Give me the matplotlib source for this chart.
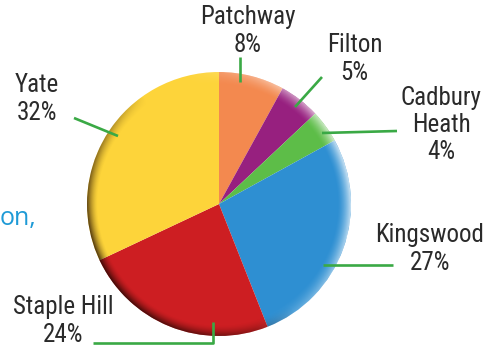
import numpy as np
import matplotlib.pyplot as plt
from matplotlib.patches import Circle

# share of sites by area
areas = ['Patchway', 'Filton', 'Cadbury\nHeath', 'Kingswood', 'Staple Hill', 'Yate']
shares = [8, 5, 4, 27, 24, 32]
colours = ['#F3894F', '#97207F', '#5DBD48', '#2E8FD2', '#CD1E22', '#FDD43A']

W, H = 486, 347
green = '#3AA945'
ink = '#2A2A2A'
fam = ['Roboto Condensed', 'DejaVu Sans']

# layout in pixels from top-left
cx, cy, r = 219, 204, 132
label_pos = [(248, 31, 'center'), (327, 59, 'left'), (441, 125, 'center'),
             (430, 249, 'center'), (63, 321, 'center'), (15, 99, 'left')]
leaders = [[(240, 57), (240, 82)],
           [(322, 77), (295, 107)],
           [(397, 131), (322, 133)],
           [(393, 265), (323, 265)],
           [(93, 343), (213, 343), (213, 322)],
           [(74, 118), (118, 136)]]

fig = plt.figure(figsize=(W / 100, H / 100), dpi=100)
ax = fig.add_axes([0, 0, 1, 1])

def Y(y):
    return H - y

ax.pie(shares, colors=colours, startangle=90, counterclock=False,
       center=(cx, Y(cy)), radius=r, wedgeprops=dict(linewidth=0))

# fake 3d rim: dark lower-left, light upper-right
n = 2 * r
xs = np.linspace(-1, 1, n)
gx, gy = np.meshgrid(xs, xs)
rho = np.sqrt(gx ** 2 + gy ** 2)
phi = np.degrees(np.arctan2(gy, gx))

def rim(centre, depth, strength, rgb, power=1.0):
    w = np.clip(np.cos(np.radians(phi - centre)), 0, None) ** power
    edge = np.clip((rho - (1 - depth)) / depth, 0, 1) ** 1.6
    img = np.zeros((n, n, 4))
    img[..., :3] = rgb
    img[..., 3] = strength * w * edge
    im = ax.imshow(img, extent=(cx - r, cx + r, Y(cy) - r, Y(cy) + r),
                   origin='lower', interpolation='bilinear', zorder=3)
    im.set_clip_path(Circle((cx, Y(cy)), r, transform=ax.transData))

rim(215, 0.08, 0.75, (0.1, 0.02, 0.0), 0.8)
rim(15, 0.10, 0.7, (1, 1, 1), 1.2)

for (x, y, ha), area, share in zip(label_pos, areas, shares):
    ax.text(x, Y(y), f'{area}\n{share}%', ha=ha, va='center', ma='center',
            fontsize=18, color=ink, family=fam, linespacing=1.17)

for pts in leaders:
    ax.plot([p[0] for p in pts], [Y(p[1]) for p in pts], color=green,
            lw=1.9, solid_capstyle='butt', zorder=4)

ax.text(36, Y(225), 'on,', ha='right', va='baseline', fontsize=18,
        color='#1E9AD6', family=['Open Sans', 'DejaVu Sans'])

ax.set_xlim(0, W)
ax.set_ylim(0, H)
ax.set_aspect('equal')
ax.axis('off')

fig.savefig('out.png', dpi=100)
